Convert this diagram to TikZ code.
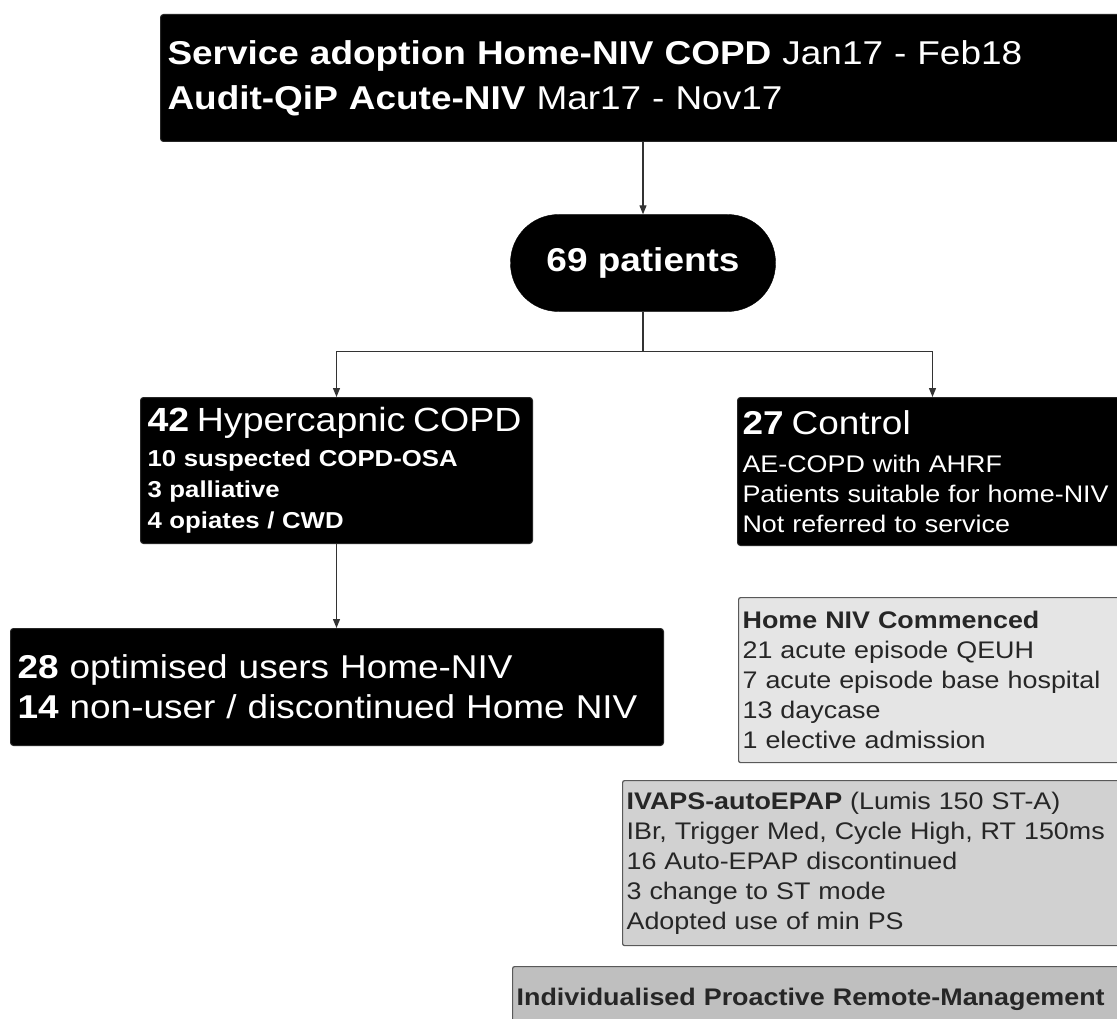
\documentclass[tikz,border=0pt]{standalone}
\usepackage{fontspec}
\setmainfont{Liberation Sans}[FakeStretch=1.12]
\usetikzlibrary{arrows.meta}

\newcommand{\bigtxt}{\fontsize{33}{45}\selectfont}
\newcommand{\smalltxt}{\fontsize{24}{30}\selectfont}

\tikzset{
	darkbox/.style={draw=black!85, fill=black, text=white, line width=1pt, rounded corners=3pt,
		anchor=north west, align=left, inner xsep=7pt, inner ysep=0pt},
	lightbox/.style={draw=black!65, text=black!85, line width=1.2pt, rounded corners=2pt,
		anchor=north west, align=left, inner xsep=4pt, inner ysep=0pt, font=\smalltxt},
	link/.style={draw=black!80, line width=1.2pt},
	flow/.style={link, -{Triangle[length=9pt,width=7pt]}}
}

\begin{document}
\begin{tikzpicture}[x=1pt,y=-1pt]
	\useasboundingbox (0,0) rectangle (1117,1019);
	\clip (0,0) rectangle (1117,1019);

	\node[darkbox, text width=966pt, minimum height=127pt, font=\bigtxt] (audit) at (160,14)
		{\textbf{Service adoption Home-NIV COPD} Jan17 - Feb18\\
		 \textbf{Audit-QiP Acute-NIV} Mar17 - Nov17};

	\node[draw=black, fill=black, text=white, rounded corners=48pt, minimum width=265pt,
		minimum height=97pt, font=\bigtxt\bfseries] (patients) at (643,263) {69 patients};

	\node[darkbox, text width=378pt, minimum height=146pt, font=\fontsize{23}{31}\selectfont\bfseries] (hyper) at (140,397)
		{{\fontsize{33.5}{36}\selectfont\textbf{42} \mdseries Hypercapnic COPD}\\[4pt]
		 10 suspected COPD-OSA\\
		 3 palliative\\
		 4 opiates / CWD};

	\node[darkbox, inner xsep=5pt, text width=380pt, minimum height=148pt, font=\smalltxt] (control) at (737,397)
		{{\fontsize{33}{36}\selectfont\textbf{27} Control}\\[8pt]
		 AE-COPD with AHRF\\
		 Patients suitable for home-NIV\\
		 Not referred to service};

	\node[darkbox, text width=639pt, minimum height=117pt, font=\fontsize{33}{40}\selectfont] (users) at (10,628)
		{\textbf{28} optimised users Home-NIV\\
		 \textbf{14} non-user / discontinued Home NIV};

	\node[lightbox, fill=black!10, text width=392pt, minimum height=165pt] (commenced) at (738,597)
		{\textbf{Home NIV Commenced}\\
		 21 acute episode QEUH\\
		 7 acute episode base hospital\\
		 13 daycase\\
		 1 elective admission};

	\node[lightbox, fill=black!18, text width=512pt, minimum height=165pt] (ivaps) at (622,780)
		{\textbf{IVAPS-autoEPAP} (Lumis 150 ST-A)\\
		 IBr, Trigger Med, Cycle High, RT 150ms\\
		 16 Auto-EPAP discontinued\\
		 3 change to ST mode\\
		 Adopted use of min PS};

	\node[lightbox, fill=black!25, text width=612pt, minimum height=66pt] (remote) at (512,966)
		{\textbf{Individualised Proactive Remote-Management}};

	% connectors
	\draw[flow] (patients.north |- audit.south) -- (patients.north);
	\draw[link] (patients.south) -- ++(0,40) coordinate (split);
	\draw[flow] (split) -| (hyper.north);
	\draw[flow] (split) -| (control.north);
	\draw[flow] (hyper.south) -- (hyper.south |- users.north);
\end{tikzpicture}
\end{document}
